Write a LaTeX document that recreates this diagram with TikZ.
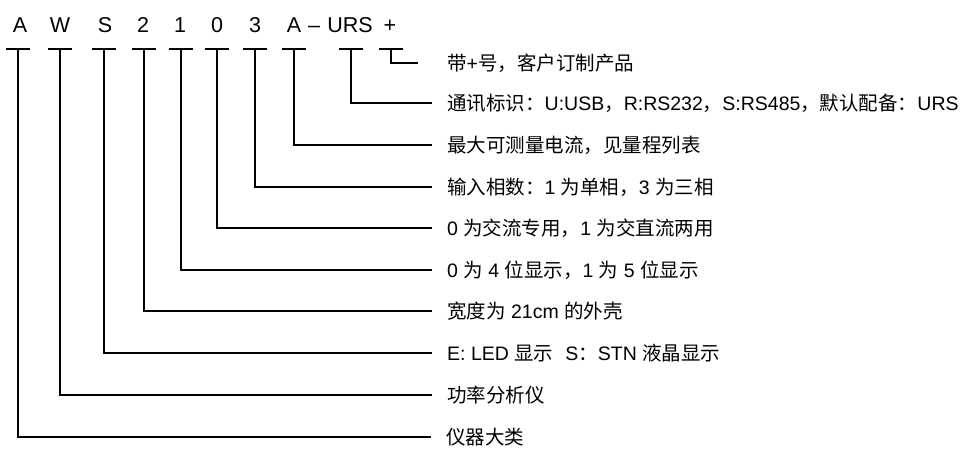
\documentclass[tikz,border=0pt]{standalone}
\usepackage{fontspec}
\setmainfont{Liberation Sans}
\newfontfamily\cjk{Noto Sans CJK SC}
\begin{document}
\begin{tikzpicture}[x=1pt,y=-1pt,
  ttl/.style={font=\fontsize{21.5}{24}\selectfont, anchor=base, inner sep=0pt},
  lbl/.style={font=\fontsize{19.5}{21}\selectfont, anchor=west, inner sep=0pt},
  tickbar/.style={line width=1.2pt},
  conn/.style={line width=1.2pt}]
\useasboundingbox (0,0) rectangle (972,448);
% title characters
\node[ttl] (c1) at (20,32) {A};
\node[ttl] (c2) at (60,32) {W};
\node[ttl] (c3) at (105,32) {S};
\node[ttl] (c4) at (143,32) {2};
\node[ttl] (c5) at (180,32) {1};
\node[ttl] (c6) at (217,32) {0};
\node[ttl] (c7) at (255,32) {3};
\node[ttl] (c8) at (294,32) {A};
\node[ttl] (cd) at (314,32) {–};
\node[ttl] (c9) at (350,32) {URS};
\node[ttl] (c10) at (390,32) {+};
% bar centres
\coordinate (b1) at (18,49);
\coordinate (b2) at (60,49);
\coordinate (b3) at (104,49);
\coordinate (b4) at (144,49);
\coordinate (b5) at (181,49);
\coordinate (b6) at (217,49);
\coordinate (b7) at (255,49);
\coordinate (b8) at (294,49);
\coordinate (b9) at (351,49);
\coordinate (b10) at (391,49);
% labels
\node[lbl] (l1) at (446,437) {{\cjk 仪器大类}};
\node[lbl] (l2) at (447,395) {{\cjk 功率分析仪}};
\node[lbl] (l3) at (447,353) {E: LED {\cjk 显示}\hspace{12pt}S{\cjk ：}STN {\cjk 液晶显示}};
\node[lbl] (l4) at (447,311) {{\cjk 宽度为} 21cm {\cjk 的外壳}};
\node[lbl] (l5) at (447,270) {0 {\cjk 为} 4 {\cjk 位显示，}1 {\cjk 为} 5 {\cjk 位显示}};
\node[lbl] (l6) at (447,228) {0 {\cjk 为交流专用，}1 {\cjk 为交直流两用}};
\node[lbl] (l7) at (447,187) {{\cjk 输入相数：}1 {\cjk 为单相，}3 {\cjk 为三相}};
\node[lbl] (l8) at (447,145) {{\cjk 最大可测量电流，见量程列表}};
\node[lbl] (l9) at (447,103) {{\cjk 通讯标识：}U:USB{\cjk ，}R:RS232{\cjk ，}S:RS485{\cjk ，默认配备：}URS};
\node[lbl] (l10) at (447,63) {{\cjk 带}+{\cjk 号，客户订制产品}};
% bars
\foreach \b in {b1,b2,b3,b4,b5,b6,b7,b8,b9,b10}
  \draw[tickbar] ([xshift=-12pt]\b) -- ([xshift=12pt]\b);
% connectors
\foreach \b/\l in {b1/l1,b2/l2,b3/l3,b4/l4,b5/l5,b6/l6,b7/l7,b8/l8,b9/l9}
  \draw[conn] (\b) |- ([xshift=-15pt]\l.west);
\draw[conn] (b10) |- ([xshift=-29pt]l10.west);
\end{tikzpicture}
\end{document}
